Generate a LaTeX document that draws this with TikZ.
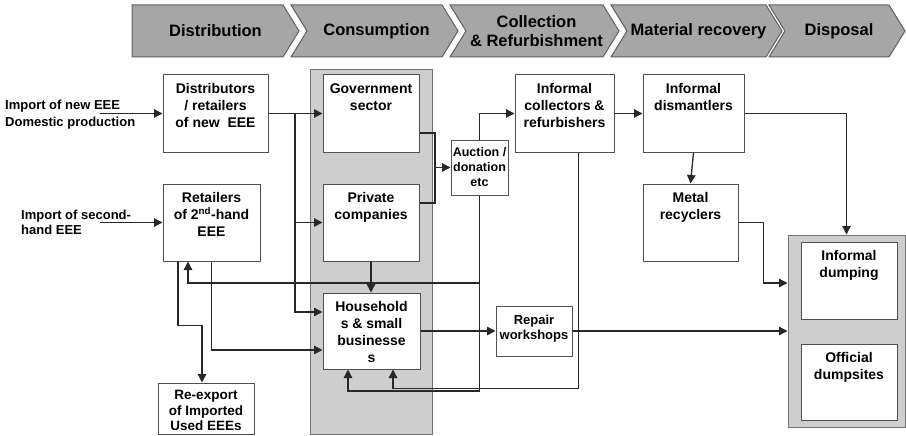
\documentclass[tikz,border=0pt]{standalone}
\usepackage{fontspec}
\setmainfont{Liberation Sans}
\usepackage{tikz}
\usetikzlibrary{arrows.meta}
\definecolor{EwasteFlowChevron}{RGB}{166,166,166}
\definecolor{EwasteFlowChevronEdge}{RGB}{96,96,96}
\definecolor{EwasteFlowPanel}{RGB}{206,206,206}
\definecolor{EwasteFlowBorder}{RGB}{80,80,80}
\definecolor{EwasteFlowLine}{RGB}{40,40,40}

\begin{document}
\begin{tikzpicture}[x=1pt,y=-1pt,font=\bfseries\fontsize{14}{17}\selectfont,box/.style 2 args={draw=EwasteFlowBorder,fill=white,line width=1pt,minimum width=#1pt,minimum height=#2pt,inner sep=0pt},lbl/.style={anchor=north,align=center,inner sep=0pt,yshift=-9pt},panel/.style 2 args={draw=EwasteFlowBorder!80,fill=EwasteFlowPanel,line width=1pt,minimum width=#1pt,minimum height=#2pt,inner sep=0pt},link/.style={draw=EwasteFlowLine,line width=1.3pt,-{Triangle[length=8.5pt,width=8.5pt]}},wire/.style={draw=EwasteFlowLine,line width=1.3pt},chev/.style={fill=EwasteFlowChevron,draw=EwasteFlowChevronEdge,line width=1pt},htxt/.style={align=center,inner sep=0pt,font=\bfseries\fontsize{16.5}{19.5}\selectfont},imp/.style={align=left,inner sep=0pt,anchor=west}]
\useasboundingbox (0,0) rectangle (906,436);
\draw[chev] (132,5) -- (283,5) -- (299,31) -- (283,57) -- (132,57) -- cycle;
\node[htxt] (hdist) at (215.5,31) {Distribution};
\foreach \l/\r/\n/\t in %
{291/442/hcons/Consumption,450/603/hcoll/{Collection\\\& Refurbishment},611/766/hmat/Material recovery,769/889/hdisp/Disposal} {
   \draw[chev] (\l,5) -- (\r,5) -- (\r+16,31) -- (\r,57) -- (\l,57) -- (\l+16,31) -- cycle;
   \node[htxt] (\n) at ({(\l+\r)/2+10},31) {\t};
}
\node[imp,font=\bfseries\fontsize{13}{17}\selectfont] (inew) at (5,115) {Import of new EEE\\Domestic production};
\node[imp,font=\bfseries\fontsize{13}{15}\selectfont] (isec) at (21,222.5) {Import of second-\\hand EEE};
\node[panel={122}{364}] (cpanel) at (371,252) {};
\node[panel={117}{192}] (dpanel) at (846.5,331) {};
\node[box={105}{77},label={[lbl]north:{Distributors\\/ retailers\\of new~~EEE}}] (dist) at (215.5,113.5) {};
\node[box={97}{77},label={[lbl]north:{Retailers\\of 2\textsuperscript{nd}-hand\\EEE}}] (ret2) at (211.5,222.5) {};
\node[box={96}{51},label={[lbl,yshift=1pt,font=\bfseries\fontsize{13.5}{15.5}\selectfont]north:{Re-export\\of Imported\\Used EEEs}}] (reexp) at (206,408.5) {};
\node[box={96}{77},label={[lbl]north:{Government\\sector}}] (gov) at (371,113.5) {};
\node[box={96}{77},label={[lbl]north:{Private\\companies}}] (priv) at (371,222.5) {};
\node[box={97}{76},label={[lbl]north:{Household\\s \& small\\businesse\\s}}] (hh) at (371.5,331) {};
\node[box={57}{55},align=center,font=\bfseries\fontsize{12.5}{15}\selectfont] (auc) at (479.5,167.5) {Auction /\\donation\\etc};
\node[box={76}{50},label={[lbl,font=\bfseries\fontsize{13}{15}\selectfont]north:{Repair\\workshops}}] (rep) at (534,331) {};
\node[box={99}{77},label={[lbl]north:{Informal\\collectors \&\\refurbishers}}] (icol) at (564.5,113.5) {};
\node[box={101}{77},label={[lbl]north:{Informal\\dismantlers}}] (idis) at (693.5,113.5) {};
\node[box={95}{77},label={[lbl]north:{Metal\\recyclers}}] (metal) at (690.5,222.5) {};
\node[box={96}{77},label={[lbl]north:{Informal\\dumping}}] (idump) at (849,280.5) {};
\node[box={96}{76},label={[lbl]north:{Official\\dumpsites}}] (offd) at (849,382) {};
\coordinate (inA) at (100,113.5);
\coordinate (inB) at (100,222.5);
\coordinate (jd) at (295,113.5);
\coordinate (jg) at (435,167.5);
\coordinate (jr) at (479.5,283);
\coordinate (ja) at (479.5,391);
\draw[link] (inA) -- (dist.west);
\draw[link] (inB) -- (ret2.west);
\draw[link] (dist.east) -- (gov.west);
\draw[link] (jd) |- (priv.west);
\draw[link] (jd) |- ([yshift=19pt]hh.west);
\draw[wire] ([yshift=-19.5pt]gov.east) -| (jg) |- ([yshift=19.5pt]priv.east);
\draw[link] (jg) -- (auc.west);
\draw[link] (auc.north) |- (icol.west);
\draw[wire] (auc.south) -- (ja);
\draw[link] (ja) -| ([xshift=-23.5pt]hh.south);
\draw[link] (jr) -| ([xshift=-23.5pt]ret2.south);
\draw[link] (priv.south) -- (priv.south |- hh.north);
\draw[link] ([xshift=-33.5pt]ret2.south) -- ++(0,64) -| ([xshift=-4pt]reexp.north);
\draw[link] (ret2.south) |- ([yshift=-19pt]hh.west);
\draw[link] (hh.east) -- (rep.west);
\draw[link] (rep.east) -- (dpanel.west);
\draw[link] ([xshift=14pt]icol.south) -- ++(0,236) -| ([xshift=21.5pt]hh.south);
\draw[link] (icol.east) -- (idis.west);
\draw[link] (idis.south) -- (metal.north);
\draw[link] (idis.east) -| (dpanel.north);
\draw[link] (metal.east) -- ++(25,0) |- ([yshift=48pt]dpanel.west);
\end{tikzpicture}
\end{document}
